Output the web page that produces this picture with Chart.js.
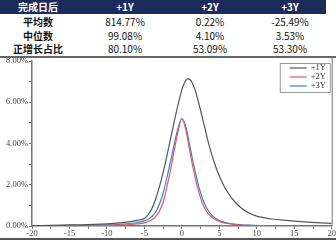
<!DOCTYPE html>
<html><head><meta charset="utf-8">
<script src="https://cdn.jsdelivr.net/npm/chart.js@4/dist/chart.umd.min.js"></script>
<style>
html,body{margin:0;padding:0;width:336px;height:240px;overflow:hidden;background:#fff;}
#tbl{position:absolute;left:0;top:0;width:336px;height:56px;font-family:"Noto Sans CJK SC",sans-serif;}
#hdr{position:absolute;left:0;top:0;width:326px;height:14px;background:#1d2a5c;}
.c{position:absolute;transform:translate(-50%,-50%);white-space:nowrap;font-size:10px;line-height:10px;}
.h{color:#fff;font-weight:bold;}
.r{color:#111;}
.rl{color:#111;font-weight:bold;}
#sep{position:absolute;left:0;top:56px;width:336px;height:2px;background:#666;}
#bot{position:absolute;left:0;top:238px;width:336px;height:2px;background:#555;}
#wrap{position:absolute;left:0;top:54px;width:336px;height:184px;}
</style></head>
<body>
<div id="tbl"><div id="hdr"></div></div>
<div id="wrap"><canvas id="c" width="336" height="184"></canvas></div>
<div id="sep"></div>
<div id="bot"></div>
<script>
// ---- table data ----
const colHeaders = ['完成日后', '+1Y', '+2Y', '+3Y'];
const rowLabels = ['平均数', '中位数', '正增长占比'];
const meanRow = ['814.77%', '0.22%', '-25.49%'];
const medianRow = ['99.08%', '4.10%', '3.53%'];
const positiveRow = ['80.10%', '53.09%', '53.30%'];

// ---- chart data (density, %) ----
const seriesNames = ['+1Y', '+2Y', '+3Y'];
const xValues = [-20,-17.5,-15,-12.5,-10,-8,-7,-6,-5,-4.5,-4,-3.5,-3,-2.5,-2,-1.5,-1,-0.5,0,0.5,1,1.5,2,2.5,3,3.5,4,4.5,5,5.5,6,7,8,9,10,11,12,14,16,18,20];
const y1Y = [0.02,0.03,0.05,0.07,0.10,0.16,0.21,0.27,0.37,0.55,0.85,1.3,1.9,2.6,3.4,4.25,5.1,5.9,6.6,7.05,7.12,6.85,6.3,5.6,4.85,4.1,3.45,2.9,2.42,2.02,1.7,1.2,0.85,0.62,0.48,0.4,0.34,0.27,0.21,0.16,0.13];
const y2Y = [0.0,0.005,0.01,0.02,0.03,0.05,0.07,0.10,0.15,0.21,0.30,0.45,0.72,1.15,1.9,2.75,3.7,4.6,5.2,4.7,3.75,2.8,2.0,1.35,0.9,0.6,0.42,0.3,0.22,0.16,0.12,0.07,0.045,0.03,0.02,0.01,null,null,null,null,null];
const y3Y = [0.01,0.015,0.02,0.03,0.05,0.09,0.12,0.17,0.25,0.33,0.46,0.68,1.05,1.6,2.35,3.15,4.0,4.75,5.2,4.85,4.0,3.1,2.3,1.6,1.1,0.75,0.52,0.37,0.27,0.2,0.15,0.09,0.06,0.04,0.03,0.02,null,null,null,null,null];
const yTickValues = [0, 2, 4, 6, 8];
const xTickValues = [-20, -15, -10, -5, 0, 5, 10, 15, 20];

// build table
const tbl = document.getElementById('tbl');
const colX = [38, 125, 210, 290];
const rowY = [7, 22, 35.5, 49];
function cell(txt, x, y, cls){ const d=document.createElement('div'); d.className='c '+cls; d.textContent=txt; d.style.left=x+'px'; d.style.top=y+'px'; tbl.appendChild(d); }
colHeaders.forEach((h,i)=>cell(h,colX[i],rowY[0],'h'));
[meanRow, medianRow, positiveRow].forEach((row,r)=>{
  cell(rowLabels[r], colX[0], rowY[r+1], 'rl');
  row.forEach((v,i)=>cell(v, colX[i+1], rowY[r+1], 'r'));
});

const colors = ['#555555', '#e0556a', '#3a86bd'];
const ys = [y1Y, y2Y, y3Y];
const datasets = seriesNames.map((n,i)=>({
  label: n,
  data: xValues.map((x,j)=>({x:x, y:ys[i][j]})),
  borderColor: colors[i],
  borderWidth: 1.2,
  pointRadius: 0,
  fill: false,
  tension: 0.4,
  spanGaps: false
}));

const tickFont = {family: '"Liberation Serif", serif', size: 8.5};

const legendBox = {
  id: 'legendBox',
  afterDraw(chart){
    const ctx = chart.ctx, a = chart.chartArea;
    const x0 = a.right - 52, y0 = a.top + 2, w = 51, h = 30;
    ctx.save();
    ctx.fillStyle = '#fff';
    ctx.fillRect(x0, y0, w, h);
    ctx.strokeStyle = '#999'; ctx.lineWidth = 1;
    ctx.strokeRect(x0+0.5, y0+0.5, w-1, h-1);
    ctx.font = '8.5px "Liberation Serif", serif';
    ctx.textBaseline = 'middle';
    chart.data.datasets.forEach((ds,i)=>{
      const yy = y0 + 5 + i*9;
      ctx.strokeStyle = ds.borderColor; ctx.lineWidth = 1.2;
      ctx.beginPath(); ctx.moveTo(x0+10, yy); ctx.lineTo(x0+27, yy); ctx.stroke();
      ctx.fillStyle = '#333';
      ctx.fillText(ds.label, x0+31, yy);
    });
    // right frame
    ctx.strokeStyle = '#888'; ctx.lineWidth = 1.2;
    ctx.beginPath(); ctx.moveTo(a.right+0.5, a.top-4); ctx.lineTo(a.right+0.5, a.bottom); ctx.stroke();
    ctx.restore();
  }
};

new Chart(document.getElementById('c'), {
  type: 'line',
  data: { datasets },
  options: {
    responsive: false,
    animation: false,
    layout: {padding: {top: 7, right: 3, left: 0, bottom: 0}},
    plugins: { legend: {display: false}, tooltip: {enabled: false} },
    scales: {
      x: {
        type: 'linear', min: -20, max: 20,
        afterFit: s => { s.height = 12; },
        afterBuildTicks: s => { const t=[]; for(let v=-20; v<=20; v+=2.5) t.push({value:v}); s.ticks=t; },
        ticks: { font: tickFont, color: '#444', padding: 0, maxRotation: 0, autoSkip: false,
          callback: v => xTickValues.includes(v) ? String(v) : '' },
        grid: { drawOnChartArea: false, drawTicks: true, tickLength: 3, color: '#777' },
        border: { color: '#777', width: 1.5 }
      },
      y: {
        min: 0, max: 8,
        afterFit: s => { s.width = 32; },
        afterBuildTicks: s => { const t=[]; for(let v=0; v<=8; v+=1) t.push({value:v}); s.ticks=t; },
        ticks: { font: tickFont, color: '#444', padding: 1, autoSkip: false,
          callback: v => yTickValues.includes(v) ? v.toFixed(2) + '%' : '' },
        grid: { drawOnChartArea: false, drawTicks: true, tickLength: 3, color: '#777' },
        border: { color: '#777', width: 1.5 }
      }
    }
  },
  plugins: [legendBox]
});
</script>
</body></html>
